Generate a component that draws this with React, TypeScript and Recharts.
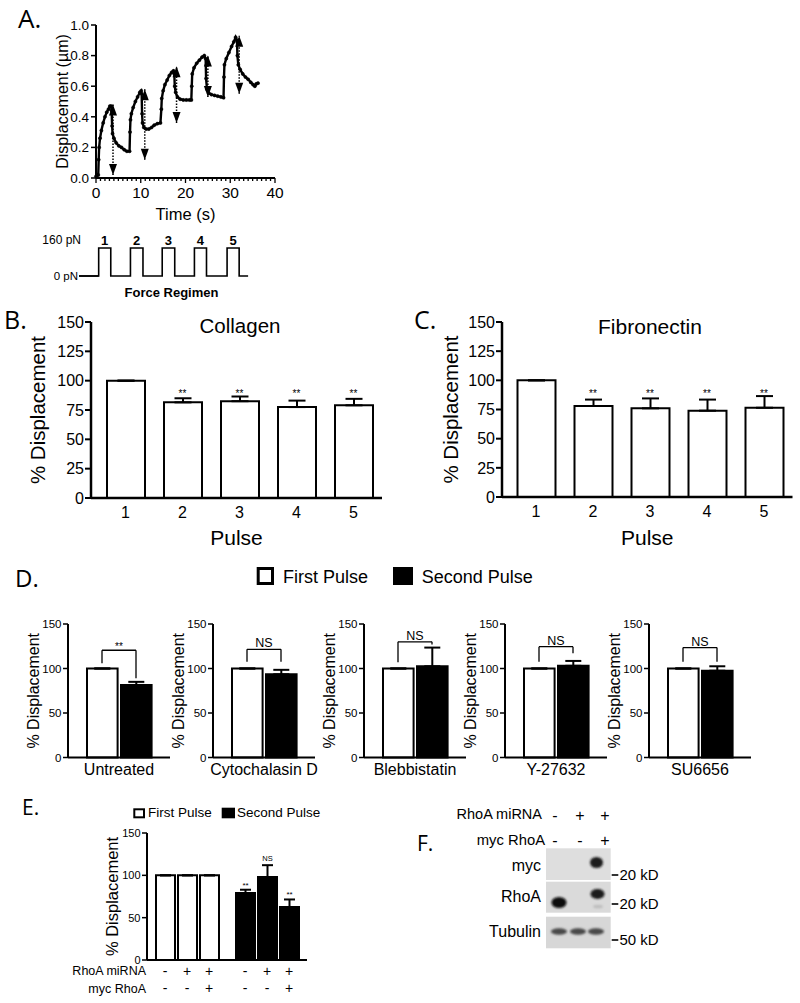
import React from 'react';
import {
  ComposedChart, BarChart, Line, Bar, Scatter, XAxis, YAxis,
  ErrorBar, Cell, ReferenceLine, ReferenceDot, LabelList,
} from 'recharts';

const FONT = '"Liberation Sans", Arial, Helvetica, sans-serif';
const LETTER = '"Open Sans", "DejaVu Sans", sans-serif';

// ---------------- Panel A: displacement trace ----------------
const traceTime = [
  0.0, 0.3, 0.5, 0.6, 0.7, 0.9, 1.2, 1.6, 2.0, 2.4, 2.8, 3.1, 3.4, 3.5,
  3.6, 3.7, 4.0, 4.5, 5.1, 5.7, 6.3, 6.9, 7.5,
  7.6, 7.7, 7.9, 8.3, 8.8, 9.3, 9.8, 10.1, 10.2,
  10.3, 10.4, 10.7, 11.2, 11.8, 12.4, 13.0, 13.7, 14.4,
  14.6, 14.7, 15.0, 15.4, 15.9, 16.4, 16.9, 17.3, 17.5,
  17.6, 17.8, 18.2, 18.8, 19.5, 20.2, 20.9, 21.3,
  21.4, 21.5, 21.9, 22.5, 23.1, 23.7, 24.2, 24.5,
  24.6, 24.8, 25.2, 25.8, 26.5, 27.2, 27.9, 28.5,
  28.6, 28.7, 29.1, 29.7, 30.3, 30.8, 31.2, 31.5,
  31.6, 31.8, 32.2, 32.8, 33.4, 34.0, 34.6, 35.1, 35.5, 35.8, 36.2,
];
const traceDisp = [
  0.01, 0.02, 0.02, 0.12, 0.2, 0.26, 0.31, 0.36, 0.40, 0.43, 0.45, 0.47, 0.47, 0.44,
  0.34, 0.29, 0.26, 0.23, 0.21, 0.2, 0.185, 0.175, 0.175,
  0.3, 0.38, 0.42, 0.46, 0.5, 0.53, 0.56, 0.57, 0.55,
  0.42, 0.36, 0.33, 0.32, 0.32, 0.33, 0.345, 0.355, 0.36,
  0.45, 0.52, 0.57, 0.61, 0.64, 0.67, 0.69, 0.70, 0.68,
  0.6, 0.56, 0.53, 0.515, 0.51, 0.51, 0.51, 0.51,
  0.6, 0.68, 0.72, 0.75, 0.77, 0.79, 0.8, 0.78,
  0.65, 0.58, 0.555, 0.545, 0.54, 0.535, 0.53, 0.525,
  0.66, 0.74, 0.78, 0.82, 0.86, 0.89, 0.92, 0.9,
  0.8, 0.74, 0.71, 0.68, 0.66, 0.645, 0.625, 0.61, 0.6, 0.615, 0.62,
];
const arrowTime = [3.8, 10.9, 18.0, 25.0, 32.0];
const arrowTop = [0.48, 0.58, 0.73, 0.8, 0.93];
const arrowBottom = [0.02, 0.12, 0.36, 0.53, 0.55];
const timeTicks = [0, 10, 20, 30, 40];
const timeMinorTicks = Array.from({ length: 41 }, (_, i) => i);
const dispTicks = [0, 0.2, 0.4, 0.6, 0.8, 1.0];

// ---------------- Force regimen (seconds from start of schematic) ----------------
const pulseNumber = [1, 2, 3, 4, 5];
const pulseOn = [4.4, 11.5, 18.6, 25.8, 33.1];
const pulseOff = [7.1, 14.3, 21.4, 28.5, 35.8];
const forceHigh = 160;
const forceLow = 0;
const forceLevels = [0, 160];
const forceStart = 0;
const forceEnd = 37.8;

// ---------------- Panels B, C ----------------
const pulseLabels = ['1', '2', '3', '4', '5'];
const collagenMean = [100, 81.5, 82.5, 77.5, 79];
const collagenErr = [0, 3.5, 4, 5.5, 5.5];
const fibronectinMean = [100, 78, 76, 74, 76.5];
const fibronectinErr = [0, 5.5, 8.5, 9.5, 10];
const pulseSig = ['', '**', '**', '**', '**'];
const pctTicks = [0, 25, 50, 75, 100, 125, 150];

// ---------------- Panel D ----------------
const treatments = ['Untreated', 'Cytochalasin D', 'Blebbistatin', 'Y-27632', 'SU6656'];
const firstPulseD = [100, 100, 100, 100, 100];
const secondPulseD = [81.5, 93.5, 102.5, 103, 97.5];
const secondErrD = [3.5, 5, 21, 5.5, 5];
const sigD = ['**', 'NS', 'NS', 'NS', 'NS'];
const bracketLeftD = [106, 107.5, 107, 107.5, 107.5];
const bracketTopD = [120.5, 121.5, 130, 124.5, 123.5];
const bracketRightD = [89, 107.5, 127, 117, 107.5];
const pctTicksD = [0, 50, 100, 150];

// ---------------- Panel E ----------------
const pulseNames = ['First Pulse', 'Second Pulse'];
const rhoaMiRNA = ['-', '+', '+'];
const mycRhoA = ['-', '-', '+'];
const firstPulseE = [100, 100, 100];
const secondPulseE = [79, 98, 62.5];
const secondErrE = [4, 14, 9];
const sigE = ['**', 'NS', '**'];

// ---------------- Panel F (blot lane conditions) ----------------
const blotMiRNA = ['-', '+', '+'];
const blotMyc = ['-', '-', '+'];

const BLACK = '#000';

// ======================= Panel A =======================
const traceData = traceTime.map((t, i) => ({ t, v: traceDisp[i] }));
const arrowUpData = arrowTime.map((t, i) => ({ t, v: arrowTop[i] }));
const arrowDownData = arrowTime.map((t, i) => ({ t, v: arrowBottom[i] }));

const UpHead = (p: any) => (
  <polygon points={`${p.cx},${p.cy} ${p.cx - 4},${p.cy + 11} ${p.cx + 4},${p.cy + 11}`} fill={BLACK} />
);
const DownHead = (p: any) => (
  <polygon points={`${p.cx},${p.cy} ${p.cx - 4},${p.cy - 11} ${p.cx + 4},${p.cy - 11}`} fill={BLACK} />
);

const TimeTick = (p: any) => {
  const v = p.payload.value;
  const major = timeTicks.includes(v);
  return (
    <g>
      <line x1={p.x} x2={p.x} y1={p.y} y2={p.y + (major ? 5 : 3)} stroke={BLACK} strokeWidth={1.3} />
      {major && (
        <text x={p.x} y={p.y + 20} textAnchor="middle" fontSize={15.5} fill={BLACK}>{v}</text>
      )}
    </g>
  );
};

function PanelA() {
  return (
    <div style={{ position: 'absolute', left: 0, top: 0 }}>
      <ComposedChart width={300} height={230} data={traceData} margin={{ top: 25, right: 25, bottom: 0, left: 0 }}>
        <XAxis
          type="number" dataKey="t" domain={[0, 40]} ticks={timeMinorTicks} interval={0}
          tick={(p: any) => <TimeTick {...p} />} tickLine={false} tickSize={0} tickMargin={0}
          height={52} axisLine={{ stroke: BLACK, strokeWidth: 2 }}
          label={{ value: 'Time (s)', position: 'insideBottom', offset: 10, fontSize: 16.5, fill: BLACK }}
        />
        <YAxis
          type="number" domain={[0, 1]} ticks={dispTicks} tickFormatter={(v: number) => v.toFixed(1)}
          width={96} tickSize={5} tickMargin={2} interval={0}
          tick={{ fill: BLACK, fontSize: 13.5 }}
          axisLine={{ stroke: BLACK, strokeWidth: 2 }} tickLine={{ stroke: BLACK, strokeWidth: 1.5 }}
          label={{ value: 'Displacement (µm)', angle: -90, position: 'insideLeft', offset: 62, fontSize: 16, fill: BLACK, style: { textAnchor: 'middle' } }}
        />
        {arrowTime.map((t, i) => (
          <ReferenceLine
            key={`arr${i}`}
            segment={[{ x: t, y: arrowBottom[i] }, { x: t, y: arrowTop[i] }]}
            stroke={BLACK} strokeWidth={1.5} strokeDasharray="1.5 1.5"
          />
        ))}
        <Line
          dataKey="v" stroke={BLACK} strokeWidth={2.4}
          dot={{ r: 1.6, fill: BLACK, stroke: BLACK, strokeWidth: 0.5 }}
          isAnimationActive={false}
        />
        <Scatter data={arrowUpData} dataKey="v" shape={UpHead} isAnimationActive={false} />
        <Scatter data={arrowDownData} dataKey="v" shape={DownHead} isAnimationActive={false} />
      </ComposedChart>
    </div>
  );
}

// ======================= Force regimen =======================
const forceData = (() => {
  const d: { t: number; f: number }[] = [{ t: forceStart, f: forceLow }, { t: forceStart, f: forceLow }];
  pulseOn.forEach((on, i) => {
    d.push({ t: on, f: forceLow });
    d.push({ t: on, f: forceHigh });
    d.push({ t: pulseOff[i], f: forceHigh });
    d.push({ t: pulseOff[i], f: forceLow });
  });
  d.push({ t: forceEnd, f: forceLow });
  return d;
})();
const leadInData = [{ t: forceStart, f: forceLow }, { t: pulseOn[0], f: forceLow }];

const ForceLevelLabel = (lvl: number) => (p: any) => {
  const vb = p.viewBox || {};
  const x = vb.x ?? p.x;
  const y = (vb.y ?? p.y) + (vb.height ?? 0) / 2;
  const hi = lvl === forceHigh;
  return (
    <text x={x + (hi ? 2 : -1)} y={y + (hi ? -8 : 0)} textAnchor="end" dominantBaseline="central" fontSize={hi ? 12 : 11.5} fill={BLACK}>
      {`${lvl} pN`}
    </text>
  );
};

const NoSymbol = () => <g />;

function ForceRegimen() {
  return (
    <div style={{ position: 'absolute', left: 0, top: 230 }}>
      <ComposedChart width={260} height={56} data={forceData} margin={{ top: 18, right: 11, bottom: 10, left: 79 }}>
        <XAxis type="number" dataKey="t" domain={[0, 38]} hide />
        <YAxis type="number" domain={[0, 160]} hide />
        <Line type="linear" dataKey="f" stroke={BLACK} strokeWidth={1.6} dot={false} isAnimationActive={false} />
        <Scatter
          data={leadInData} dataKey="f" line={{ stroke: BLACK, strokeWidth: 1.6 }}
          shape={NoSymbol} isAnimationActive={false}
        />
        {forceLevels.map((lvl) => (
          <ReferenceDot
            key={`lvl${lvl}`} x={forceStart} y={lvl} r={0} fill="none" stroke="none" ifOverflow="visible"
            label={{ content: ForceLevelLabel(lvl) }}
          />
        ))}
        {pulseNumber.map((n, i) => (
          <ReferenceDot
            key={`p${n}`} x={(pulseOn[i] + pulseOff[i]) / 2} y={forceHigh} r={0}
            fill="none" stroke="none"
            label={{ value: n, position: 'top', offset: 3, fontSize: 13, fontWeight: 'bold', fill: BLACK }}
          />
        ))}
      </ComposedChart>
    </div>
  );
}

// ======================= Panels B, C =======================
function PulseBars(props: {
  left: number; width: number; yWidth: number; padLeft: number; marginRight: number;
  xHeight: number; means: number[]; errs: number[]; labelOffset: number; sigY: number;
}) {
  const data = pulseLabels.map((p, i) => ({ pulse: p, mean: props.means[i], err: [0, props.errs[i]] }));
  return (
    <div style={{ position: 'absolute', left: props.left, top: 300 }}>
      <BarChart width={props.width} height={260} data={data} margin={{ top: 22, right: props.marginRight, bottom: 0, left: 0 }}>
        <XAxis
          dataKey="pulse" padding={{ left: props.padLeft, right: 0 }} interval={0}
          tickLine={false} tickSize={6} tickMargin={3} height={props.xHeight}
          axisLine={{ stroke: BLACK, strokeWidth: 2.5 }} tick={{ fill: BLACK, fontSize: 16 }}
          label={{ value: 'Pulse', position: 'insideBottom', offset: 15, fontSize: 21, fill: BLACK }}
        />
        <YAxis
          type="number" domain={[0, 150]} ticks={pctTicks} width={props.yWidth} interval={0}
          tickSize={6} tickMargin={1} tick={{ fill: BLACK, fontSize: 16 }}
          axisLine={{ stroke: BLACK, strokeWidth: 2.5 }} tickLine={{ stroke: BLACK, strokeWidth: 2 }}
          label={{ value: '% Displacement', angle: -90, position: 'insideLeft', offset: props.labelOffset, fontSize: 20.5, fill: BLACK, style: { textAnchor: 'middle' } }}
        />
        <Bar dataKey="mean" fill="#fff" stroke={BLACK} strokeWidth={2} barSize={38} isAnimationActive={false}>
          <ErrorBar dataKey="err" width={8.5} stroke={BLACK} strokeWidth={2} direction="y" />
        </Bar>
        {pulseLabels.map((p, i) =>
          pulseSig[i] ? (
            <ReferenceDot
              key={`s${p}`} x={p} y={props.sigY} r={0} fill="none" stroke="none"
              label={{ value: pulseSig[i], position: 'center', fontSize: 10, fill: BLACK }}
            />
          ) : null
        )}
      </BarChart>
    </div>
  );
}

// ======================= Panel D =======================
const dAxisX = [68.3, 213.3, 364, 505, 649.3];

function TreatmentChart({ idx }: { idx: number }) {
  const data = [
    { pulse: 'First', value: firstPulseD[idx], err: [0, 0] },
    { pulse: 'Second', value: secondPulseD[idx], err: [0, secondErrD[idx]] },
  ];
  const sig = sigD[idx];
  const isStar = sig === '**';
  return (
    <div style={{ position: 'absolute', left: dAxisX[idx] - 68, top: 600 }}>
      <BarChart width={174} height={190} data={data} margin={{ top: 24, right: 4, bottom: 0, left: 0 }} barCategoryGap={0}>
        <XAxis
          dataKey="pulse" padding={{ left: 17, right: 17 }} tick={false} tickLine={false}
          height={32.5} axisLine={{ stroke: BLACK, strokeWidth: 2 }}
          label={{ value: treatments[idx], position: 'insideTop', offset: 6, fontSize: 16, fill: BLACK }}
        />
        <YAxis
          type="number" domain={[0, 150]} ticks={pctTicksD} width={68} interval={0}
          tickSize={5} tickMargin={1.5} tick={{ fill: BLACK, fontSize: 11.5 }}
          axisLine={{ stroke: BLACK, strokeWidth: 2 }} tickLine={{ stroke: BLACK, strokeWidth: 1.5 }}
          label={{ value: '% Displacement', angle: -90, position: 'insideLeft', offset: 33, fontSize: 16, fill: BLACK, style: { textAnchor: 'middle' } }}
        />
        <Bar dataKey="value" barSize={34} stroke={BLACK} strokeWidth={2} isAnimationActive={false}>
          {data.map((d, i) => (
            <Cell key={d.pulse} fill={i === 0 ? '#fff' : BLACK} />
          ))}
          <ErrorBar dataKey="err" width={8} stroke={BLACK} strokeWidth={2} direction="y" />
        </Bar>
        <ReferenceLine
          segment={[{ x: 'First', y: bracketLeftD[idx] }, { x: 'First', y: bracketTopD[idx] }]}
          stroke={BLACK} strokeWidth={1.3}
        />
        <ReferenceLine
          segment={[{ x: 'First', y: bracketTopD[idx] }, { x: 'Second', y: bracketTopD[idx] }]}
          stroke={BLACK} strokeWidth={1.3}
          label={{ value: sig, position: 'top', offset: isStar ? 0 : 2, fontSize: isStar ? 10 : 12.5, fill: BLACK }}
        />
        <ReferenceLine
          segment={[{ x: 'Second', y: bracketTopD[idx] }, { x: 'Second', y: bracketRightD[idx] }]}
          stroke={BLACK} strokeWidth={1.3}
        />
      </BarChart>
    </div>
  );
}

// ======================= Panel E =======================
const eData = pulseNames.map((name, k) => {
  const row: any = { pulse: name };
  [0, 1, 2].forEach((j) => {
    row[`c${j}`] = k === 0 ? firstPulseE[j] : secondPulseE[j];
    row[`e${j}`] = [0, k === 0 ? 0 : secondErrE[j]];
  });
  return row;
});

const E_BAR = 19;
const E_GAP = 3;

const SignTick = (p: any) => {
  const step = E_BAR + E_GAP;
  return (
    <g>
      {[0, 1, 2].map((j) => (
        <g key={j}>
          <text x={p.x + (j - 1) * step} y={p.y + 10.7} textAnchor="middle" dominantBaseline="central" fontSize={14} fill={BLACK}>
            {rhoaMiRNA[j]}
          </text>
          <text x={p.x + (j - 1) * step} y={p.y + 28.3} textAnchor="middle" dominantBaseline="central" fontSize={14} fill={BLACK}>
            {mycRhoA[j]}
          </text>
        </g>
      ))}
    </g>
  );
};

const makeSigLabel = (j: number) => (p: any) => {
  if (p.index !== 1) return null;
  const vb = p.viewBox || {};
  const x = vb.x ?? p.x;
  const y = vb.y ?? p.y;
  const w = vb.width ?? p.width;
  const h = Math.abs(vb.height ?? p.height);
  const val = Array.isArray(p.value) ? p.value[p.value.length - 1] : p.value;
  const errPx = (secondErrE[j] * h) / val;
  const isStar = sigE[j] === '**';
  return (
    <text x={x + w / 2} y={y - errPx - (isStar ? 2 : 4)} textAnchor="middle" fontSize={isStar ? 8 : 7.5} fill={BLACK}>
      {sigE[j]}
    </text>
  );
};

function PanelE() {
  return (
    <div style={{ position: 'absolute', left: 100, top: 820 }}>
      <BarChart width={212} height={183} data={eData} margin={{ top: 13, right: 5, bottom: 0, left: 0 }} barGap={E_GAP} barSize={E_BAR}>
        <XAxis
          dataKey="pulse" tickLine={false} tickSize={0} tickMargin={0} interval={0}
          tick={(p: any) => <SignTick {...p} />} height={43}
          axisLine={{ stroke: BLACK, strokeWidth: 2 }}
        />
        <YAxis
          type="number" domain={[0, 150]} ticks={pctTicksD} width={47} interval={0}
          tickSize={5} tickMargin={1.5} tick={{ fill: BLACK, fontSize: 11 }}
          axisLine={{ stroke: BLACK, strokeWidth: 2 }} tickLine={{ stroke: BLACK, strokeWidth: 1.5 }}
          label={{ value: '% Displacement', angle: -90, position: 'insideLeft', offset: 12.5, fontSize: 16.5, fill: BLACK, style: { textAnchor: 'middle' } }}
        />
        {[0, 1, 2].map((j) => (
          <Bar key={j} dataKey={`c${j}`} stroke={BLACK} strokeWidth={2} isAnimationActive={false}>
            {eData.map((d, k) => (
              <Cell key={d.pulse} fill={k === 0 ? '#fff' : BLACK} />
            ))}
            <ErrorBar dataKey={`e${j}`} width={5.5} stroke={BLACK} strokeWidth={2} direction="y" />
            <LabelList dataKey={`c${j}`} content={makeSigLabel(j)} />
          </Bar>
        ))}
      </BarChart>
    </div>
  );
}

// ======================= Overlay (letters, titles, legends, blot) =======================
function Overlay() {
  const letter = { fontFamily: LETTER, fill: BLACK } as const;
  const laneX = [555, 580, 605];
  return (
    <svg width={800} height={1003} style={{ position: 'absolute', left: 0, top: 0 }}>
      <defs>
        <filter id="blur1" x="-50%" y="-50%" width="200%" height="200%">
          <feGaussianBlur stdDeviation="1.3" />
        </filter>
      </defs>
      {/* panel letters */}
      <text x={18} y={28} fontSize={26} {...letter}>A.</text>
      <text x={4} y={329} fontSize={25} {...letter}>B.</text>
      <text x={414} y={329} fontSize={25} {...letter}>C.</text>
      <text x={15} y={587} fontSize={24} {...letter}>D.</text>
      <text x={22} y={815} fontSize={21} {...letter}>E.</text>
      <text x={417} y={851} fontSize={21} {...letter}>F.</text>

      {/* force regimen caption */}
      <text x={171.5} y={297} textAnchor="middle" fontSize={13} fontWeight="bold" fill={BLACK}>Force Regimen</text>

      {/* B / C titles */}
      <text x={240} y={333} textAnchor="middle" fontSize={20.5} fill={BLACK}>Collagen</text>
      <text x={650} y={333.5} textAnchor="middle" fontSize={21} fill={BLACK}>Fibronectin</text>

      {/* D legend */}
      <rect x={258.2} y={568.5} width={14.3} height={15} fill="#fff" stroke={BLACK} strokeWidth={3} />
      <text x={283} y={582.5} fontSize={18} fill={BLACK}>First Pulse</text>
      <rect x={393} y={567} width={20} height={18} fill={BLACK} />
      <text x={421.7} y={582.5} fontSize={18} fill={BLACK}>Second Pulse</text>

      {/* E legend */}
      <rect x={134.3} y={809.3} width={9.7} height={8} fill="#fff" stroke={BLACK} strokeWidth={2} />
      <text x={148} y={817} fontSize={13.5} fill={BLACK}>First Pulse</text>
      <rect x={221.7} y={807.7} width={13.3} height={10.6} fill={BLACK} />
      <text x={237} y={817} fontSize={13.5} fill={BLACK}>Second Pulse</text>

      {/* E row labels */}
      <text x={146} y={975.2} textAnchor="end" fontSize={12.5} fill={BLACK}>RhoA miRNA</text>
      <text x={146} y={992.8} textAnchor="end" fontSize={12.5} fill={BLACK}>myc RhoA</text>

      {/* F header */}
      <text x={542} y={818.5} textAnchor="end" fontSize={14.5} fill={BLACK}>RhoA miRNA</text>
      <text x={545} y={845.3} textAnchor="end" fontSize={14.8} fill={BLACK}>myc RhoA</text>
      {laneX.map((x, i) => (
        <g key={`lane${i}`}>
          <text x={x} y={815} textAnchor="middle" dominantBaseline="central" fontSize={16} fill={BLACK}>{blotMiRNA[i]}</text>
          <text x={x} y={840} textAnchor="middle" dominantBaseline="central" fontSize={16} fill={BLACK}>{blotMyc[i]}</text>
        </g>
      ))}

      {/* F blot panels */}
      <rect x={546} y={848.3} width={64.7} height={31.7} fill="#dedede" />
      <rect x={546} y={881.7} width={64.7} height={31} fill="#dadada" />
      <rect x={546} y={916.7} width={64.7} height={31.6} fill="#d7d7d7" />
      <ellipse cx={596.5} cy={862.5} rx={6.5} ry={5.5} fill="#1c1c1c" filter="url(#blur1)" />
      <ellipse cx={559} cy={902.5} rx={7.5} ry={5.5} fill="#111" filter="url(#blur1)" />
      <ellipse cx={597.5} cy={894} rx={7} ry={5} fill="#1a1a1a" filter="url(#blur1)" />
      <ellipse cx={598} cy={906.5} rx={5} ry={1.8} fill="#bdbdbd" filter="url(#blur1)" />
      <ellipse cx={559} cy={931.5} rx={8} ry={3.2} fill="#484848" filter="url(#blur1)" />
      <ellipse cx={578} cy={931.5} rx={8} ry={3.2} fill="#484848" filter="url(#blur1)" />
      <ellipse cx={596} cy={931.5} rx={8} ry={3.2} fill="#484848" filter="url(#blur1)" />
      <text x={541} y={870.7} textAnchor="end" fontSize={16} fill={BLACK}>myc</text>
      <text x={541} y={902.4} textAnchor="end" fontSize={16} fill={BLACK}>RhoA</text>
      <text x={541} y={937.4} textAnchor="end" fontSize={16} fill={BLACK}>Tubulin</text>
      {[875, 904, 940].map((y, i) => (
        <g key={`mk${i}`}>
          <line x1={611.7} x2={618.3} y1={y} y2={y} stroke={BLACK} strokeWidth={1.6} />
          <text x={619.5} y={y + 5.3} fontSize={15} fill={BLACK}>{i === 2 ? '50 kD' : '20 kD'}</text>
        </g>
      ))}
    </svg>
  );
}

export default function App() {
  return (
    <div style={{ position: 'absolute', left: 0, top: 0, width: 800, height: 1003, background: '#fff', fontFamily: FONT, overflow: 'hidden' }}>
      <Overlay />
      <PanelA />
      <ForceRegimen />
      <PulseBars left={0} width={400} yWidth={91} padLeft={6} marginRight={18} xHeight={62}
        means={collagenMean} errs={collagenErr} labelOffset={38} sigY={89} />
      <PulseBars left={410} width={390} yWidth={92} padLeft={5.5} marginRight={7.5} xHeight={63}
        means={fibronectinMean} errs={fibronectinErr} labelOffset={41} sigY={88.5} />
      {treatments.map((t, i) => (
        <TreatmentChart key={t} idx={i} />
      ))}
      <PanelE />
    </div>
  );
}
